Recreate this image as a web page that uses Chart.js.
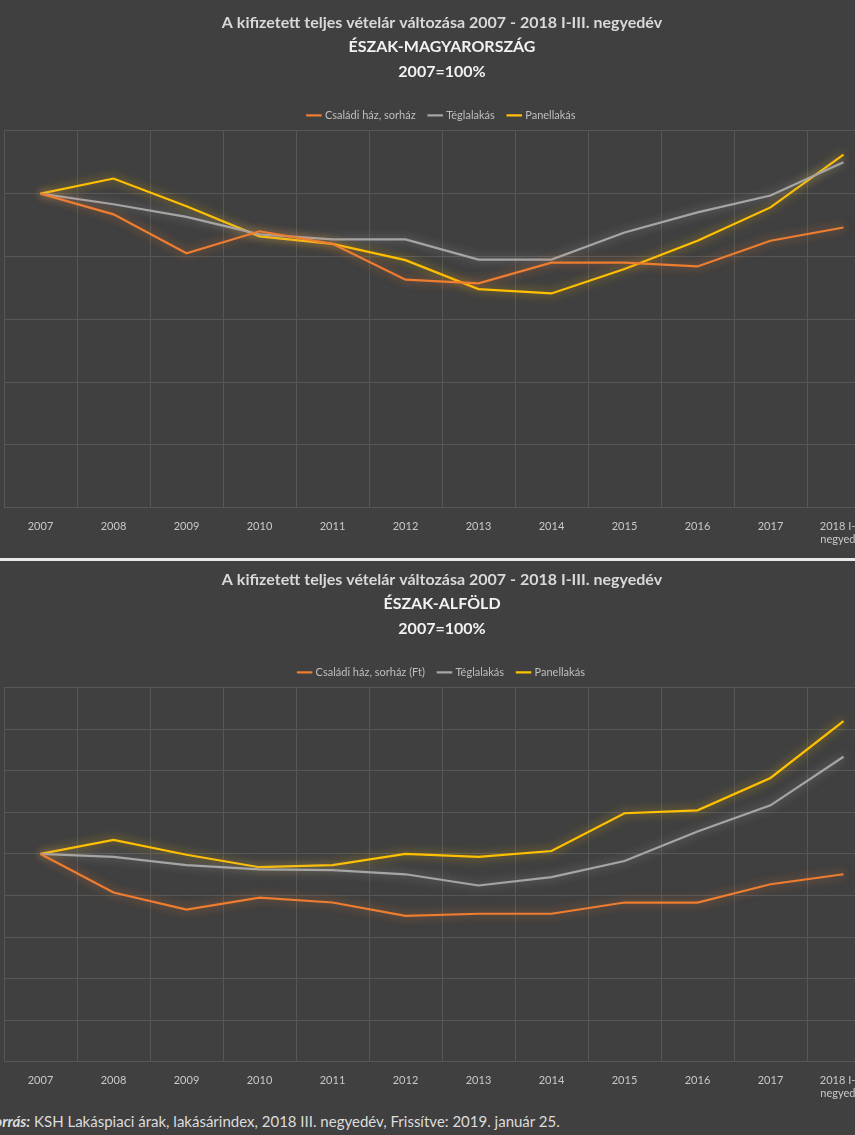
<!DOCTYPE html>
<html>
<head>
<meta charset="utf-8">
<script src="https://cdn.jsdelivr.net/npm/chart.js@4/dist/chart.umd.min.js"></script>
<style>
  body { margin: 0; background: #404040; width: 855px; height: 1135px; overflow: hidden; position: relative; font-family: Lato, "Open Sans", sans-serif; }
  .box { position: absolute; left: -10px; width: 890px; }
  #top { top: 0; height: 558px; }
  #bottom { top: 562px; height: 550px; }
  .sep { position: absolute; left: 0; top: 558px; width: 855px; height: 3px; background: #e8e8e8; }
  .src { position: absolute; left: -13px; top: 1112px; color: #dcdcdc; font-size: 15px; white-space: nowrap; }
</style>
</head>
<body>
<div class="box" id="top"><canvas id="chartNorth"></canvas></div>
<div class="sep"></div>
<div class="box" id="bottom"><canvas id="chartAlfold"></canvas></div>
<div class="src"><b><i>Forrás:</i></b> KSH Lakáspiaci árak, lakásárindex, 2018 III. negyedév, Frissítve: 2019. január 25.</div>
<script>
// categories
const years = ['2007','2008','2009','2010','2011','2012','2013','2014','2015','2016','2017',['2018 I-III.','negyedév']];

// Észak-Magyarország (2007=100%)
const nmHaz    = [100, 96.7, 90.5, 94.0, 92.0, 86.3, 85.7, 89.0, 89.0, 88.4, 92.5, 94.6];
const nmTegla  = [100, 98.3, 96.3, 93.5, 92.7, 92.7, 89.5, 89.5, 93.8, 97.0, 99.7, 105.0];
const nmPanel  = [100, 102.4, 98.0, 93.2, 92.0, 89.4, 84.8, 84.1, 88.0, 92.5, 97.8, 106.2];

// Észak-Alföld (2007=100%)
const eaHaz    = [100, 90.7, 86.6, 89.5, 88.3, 85.1, 85.6, 85.6, 88.3, 88.3, 92.7, 95.1];
const eaTegla  = [100, 99.3, 97.3, 96.3, 96.1, 95.1, 92.4, 94.4, 98.3, 105.4, 111.7, 123.4];
const eaPanel  = [100, 103.4, 99.8, 96.8, 97.3, 100.0, 99.3, 100.7, 109.8, 110.5, 118.3, 132.0];

const cOrange = '#ed7d31';
const cGrey = '#a5a5a5';
const cYellow = '#ffc000';

// soft glow behind each line
const glowPlugin = {
  id: 'glow',
  beforeDatasetDraw(chart, args) {
    const c = chart.ctx;
    c.save();
    c.shadowColor = args.meta.dataset.options.borderColor + 'aa';
    c.shadowBlur = 10;
  },
  afterDatasetDraw(chart) { chart.ctx.restore(); }
};

function makeChart(id, region, hazLabel, haz, tegla, panel, yMax, topPad) {
  const ds = (label, data, color) => ({
    label, data, borderColor: color, backgroundColor: color,
    borderWidth: 2.2, pointRadius: 0, tension: 0
  });
  return new Chart(document.getElementById(id), {
    type: 'line',
    data: {
      labels: years,
      datasets: [ds(hazLabel, haz, cOrange), ds('Téglalakás', tegla, cGrey), ds('Panellakás', panel, cYellow)]
    },
    plugins: [glowPlugin],
    options: {
      responsive: true,
      maintainAspectRatio: false,
      animation: false,
      layout: { padding: { left: 14, right: 0, top: topPad, bottom: 0 } },
      scales: {
        x: {
          offset: true,
          grid: { color: '#575757', offset: true, drawTicks: false },
          border: { display: false },
          ticks: { color: '#c8c8c8', font: { family: 'Lato', size: 11 }, maxRotation: 0, autoSkip: false, padding: 12 }
        },
        y: {
          min: 50, max: yMax,
          grid: { color: '#575757', drawTicks: false },
          border: { display: true, color: '#575757' },
          ticks: { display: false, stepSize: 10 }
        }
      },
      plugins: {
        title: {
          display: true, text: 'A kifizetett teljes vételár változása 2007 - 2018 I-III. negyedév',
          color: '#d9d9d9', font: { family: 'Lato', size: 16, weight: 'bold' }, padding: { top: 0, bottom: 2 }
        },
        subtitle: {
          display: true, text: [region, '2007=100%'],
          color: '#f2f2f2', font: { family: 'Lato', size: 16, weight: 'bold', lineHeight: 1.55 }, padding: { bottom: 12 }
        },
        legend: {
          labels: {
            usePointStyle: true, pointStyle: 'line', boxWidth: 22,
            color: '#bfbfbf', font: { family: 'Lato', size: 11 }, padding: 14
          }
        },
        tooltip: { enabled: false }
      }
    }
  });
}

makeChart('chartNorth', 'ÉSZAK-MAGYARORSZÁG', 'Családi ház, sorház', nmHaz, nmTegla, nmPanel, 110, 13);
makeChart('chartAlfold', 'ÉSZAK-ALFÖLD', 'Családi ház, sorház (Ft)', eaHaz, eaTegla, eaPanel, 140, 8);
</script>
</body>
</html>
